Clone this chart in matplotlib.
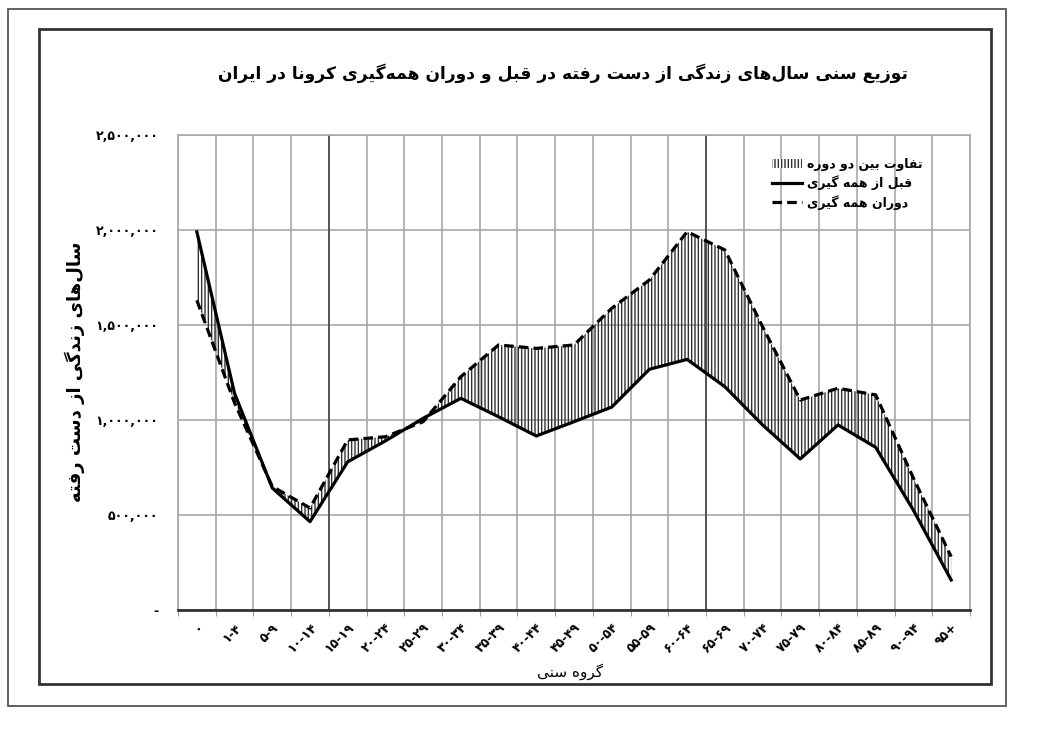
import matplotlib
matplotlib.use('Agg')
import matplotlib.pyplot as plt
from matplotlib.patches import Rectangle, Patch
from matplotlib.lines import Line2D

# data (years of life lost)
age_groups = ['0', '1-4', '5-9', '10-14', '15-19', '20-24', '25-29', '30-34', '35-39', '40-44',
              '45-49', '50-54', '55-59', '60-64', '65-69', '70-74', '75-79', '80-84', '85-89',
              '90-94', '95+']
before = [1990000, 1140000, 642000, 465000, 780000, 890000, 1009000, 1114000, 1017000, 916000,
          991000, 1068000, 1267000, 1319000, 1175000, 974000, 795000, 974000, 856000, 525000, 158000]
during = [1630000, 1090000, 650000, 537000, 895000, 912000, 991000, 1228000, 1395000, 1377000,
          1395000, 1588000, 1737000, 1991000, 1895000, 1491000, 1105000, 1167000, 1132000, 694000, 281000]
y_ticks = [0, 500000, 1000000, 1500000, 2000000, 2500000]

title = 'توزیع سنی سال\u200cهای زندگی از دست رفته در قبل و دوران همه\u200cگیری کرونا در ایران'
ylabel = 'سال\u200cهای زندگی از دست رفته'
xlabel = 'گروه سنی'
legend_labels = ['تفاوت بین دو دوره', 'قبل از همه گیری', 'دوران همه گیری']

# matplotlib has no arabic shaping, so pick the presentation forms by hand
FORMS = {
    'ا': (0xFE8D, 0xFE8E), 'د': (0xFEA9, 0xFEAA), 'ر': (0xFEAD, 0xFEAE),
    'ز': (0xFEAF, 0xFEB0), 'و': (0xFEED, 0xFEEE),
    'ب': (0xFE8F, 0xFE90, 0xFE91, 0xFE92), 'ت': (0xFE95, 0xFE96, 0xFE97, 0xFE98),
    'س': (0xFEB1, 0xFEB2, 0xFEB3, 0xFEB4), 'ع': (0xFEC9, 0xFECA, 0xFECB, 0xFECC),
    'ف': (0xFED1, 0xFED2, 0xFED3, 0xFED4), 'ق': (0xFED5, 0xFED6, 0xFED7, 0xFED8),
    'ل': (0xFEDD, 0xFEDE, 0xFEDF, 0xFEE0), 'م': (0xFEE1, 0xFEE2, 0xFEE3, 0xFEE4),
    'ن': (0xFEE5, 0xFEE6, 0xFEE7, 0xFEE8), 'ه': (0xFEE9, 0xFEEA, 0xFEEB, 0xFEEC),
    'ی': (0xFBFC, 0xFBFD, 0xFBFE, 0xFBFF), 'ک': (0xFB8E, 0xFB8F, 0xFB90, 0xFB91),
    'گ': (0xFB92, 0xFB93, 0xFB94, 0xFB95),
}


def fa(text):
    out = []
    for i, c in enumerate(text):
        if c not in FORMS:
            if c != '\u200c':
                out.append(c)
            continue
        f = FORMS[c]
        prev = text[i - 1] if i > 0 else ''
        nxt = text[i + 1] if i + 1 < len(text) else ''
        join_prev = prev in FORMS and len(FORMS[prev]) == 4
        join_next = len(f) == 4 and nxt in FORMS
        if join_prev and join_next:
            out.append(chr(f[3]))
        elif join_prev:
            out.append(chr(f[1]))
        elif join_next:
            out.append(chr(f[2]))
        else:
            out.append(chr(f[0]))
    return ''.join(reversed(out))


def fa_digits(s):
    return s.translate(str.maketrans('0123456789', '۰۱۲۳۴۵۶۷۸۹'))


plt.rcParams['font.family'] = ['DejaVu Sans']
plt.rcParams['hatch.linewidth'] = 1.0

fig = plt.figure(figsize=(10.51, 7.47), dpi=100)
fig.patches.append(Rectangle((8 / 1051, 1 - 706 / 747), 998 / 1051, 697 / 747, transform=fig.transFigure,
                             fill=False, edgecolor='#555555', linewidth=1.3))
fig.patches.append(Rectangle((39 / 1051, 1 - 684 / 747), 952 / 1051, 655 / 747, transform=fig.transFigure,
                             fill=False, edgecolor='#333333', linewidth=2))

ax = fig.add_axes([178 / 1051, 1 - 610 / 747, 792 / 1051, 475 / 747])
x = list(range(len(age_groups)))

ax.fill_between(x, before, during, facecolor='none', edgecolor='#333333', linewidth=0, hatch='|||||')
ax.plot(x, before, color='black', linewidth=2.3)
ax.plot(x, during, color='black', linewidth=2.3, linestyle=(0, (3, 1.6)))

ax.set_xlim(-0.5, len(age_groups) - 0.5)
ax.set_ylim(0, 2500000)

bounds = [i - 0.5 for i in range(len(age_groups) + 1)]
ax.set_xticks(x)
ax.set_xticklabels([fa_digits(a) for a in age_groups], rotation=45, ha='right', va='top',
                   fontsize=9, fontweight='bold', rotation_mode='anchor')
ax.set_xticks(bounds, minor=True)
ax.tick_params(axis='x', which='major', length=0, pad=8)
ax.tick_params(axis='x', which='minor', length=4, color='#888888')
ax.set_yticks(y_ticks)
ax.set_yticklabels(['-'] + [fa_digits(f'{v:,}') for v in y_ticks[1:]], fontsize=9, fontweight='bold')
ax.tick_params(axis='y', length=0, pad=14)

ax.grid(True, which='minor', axis='x', color='#a8a8a8', linewidth=1.2)
ax.grid(True, which='major', axis='y', color='#a8a8a8', linewidth=1.2)
ax.set_axisbelow(True)
for b in (bounds[4], bounds[14]):
    ax.axvline(b, color='#444444', linewidth=1.2, zorder=1)
for s in ('left', 'top', 'right'):
    ax.spines[s].set_color('#a8a8a8')
    ax.spines[s].set_linewidth(1.2)
ax.spines['bottom'].set_color('#333333')
ax.spines['bottom'].set_linewidth(2)

fig.text(563 / 1051, 1 - 73 / 747, fa(title), ha='center', va='center', fontsize=12.3, fontweight='bold')
fig.text(75 / 1051, 1 - 372 / 747, fa(ylabel), ha='center', va='center', rotation=90,
         fontsize=13, fontweight='bold')
fig.text(570 / 1051, 1 - 672 / 747, fa(xlabel), ha='center', va='center', fontsize=11)

handles = [Patch(facecolor='white', edgecolor='#333333', linewidth=0, hatch='|||||'),
           Line2D([], [], color='black', linewidth=2.3),
           Line2D([], [], color='black', linewidth=2.3, linestyle=(0, (3, 1.6)))]
leg = ax.legend(handles, [fa(t) for t in legend_labels], loc='upper right', bbox_to_anchor=(0.955, 0.975),
                frameon=False, prop={'size': 9, 'weight': 'bold'}, handlelength=2.4,
                handletextpad=0.4, labelspacing=0.35)

fig.savefig('out.png', dpi=100, facecolor='white')
